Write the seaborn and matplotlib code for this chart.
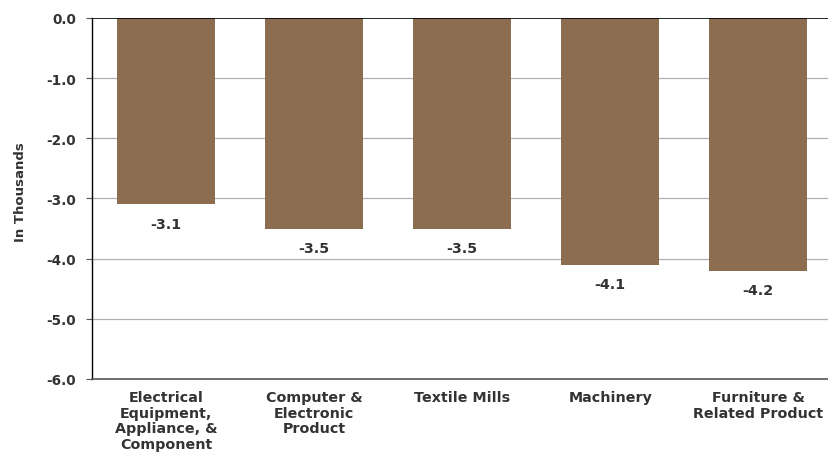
import matplotlib
matplotlib.use("Agg")
import matplotlib.pyplot as plt
import seaborn as sns
import pandas as pd

categories = ["Electrical\nEquipment,\nAppliance, &\nComponent",
              "Computer &\nElectronic\nProduct",
              "Textile Mills",
              "Machinery",
              "Furniture &\nRelated Product"]
values = [-3.1, -3.5, -3.5, -4.1, -4.2]
yticks = [0.0, -1.0, -2.0, -3.0, -4.0, -5.0, -6.0]

sns.set_theme(style="white")
plt.rcParams['font.family'] = ['DejaVu Sans']

df = pd.DataFrame({"cat": categories, "val": values})
fig = plt.figure(figsize=(8.29, 4.6), dpi=100)
ax = fig.add_axes([0.111, 0.174, 0.893, 0.785])
sns.barplot(data=df, x="cat", y="val", color="#8C6D4F", saturation=1, width=0.66, ax=ax, zorder=3)
for p in ax.patches:
    p.set_edgecolor("none")

ax.set_ylim(-6, 0)
ax.set_xlim(-0.5, 4.5)
ax.set_yticks(yticks)
ax.set_yticklabels([f"{t:.1f}" for t in yticks], fontsize=9.8, fontweight="bold", color="#333333")
ax.set_xticks(range(len(categories)))
ax.set_xticklabels(categories, fontsize=10.3, fontweight="bold", color="#333333", linespacing=1.15)
ax.tick_params(axis="x", length=0, pad=8)
ax.tick_params(axis="y", length=4.5, width=0.8, color="#555555", pad=7, left=True)
ax.set_xlabel("")
ax.set_ylabel("In Thousands", fontsize=9.5, fontweight="bold", color="#333333")
ax.yaxis.set_label_coords(-0.088, 0.52)

for y in [-1, -2, -3, -4, -5]:
    ax.axhline(y, color="#B0B0B0", lw=0.9, zorder=1)
ax.axhline(0, color="black", lw=1.2, zorder=4)

for s in ["top", "right"]:
    ax.spines[s].set_visible(False)
ax.spines["left"].set_color("black")
ax.spines["left"].set_linewidth(1.0)
ax.spines["bottom"].set_color("#555555")
ax.spines["bottom"].set_linewidth(1.2)

for c in ax.containers:
    ax.bar_label(c, labels=[f"{v:.1f}" for v in values], padding=9,
                 fontsize=10.3, fontweight="bold", color="#333333")

fig.savefig("out.png", dpi=100)
